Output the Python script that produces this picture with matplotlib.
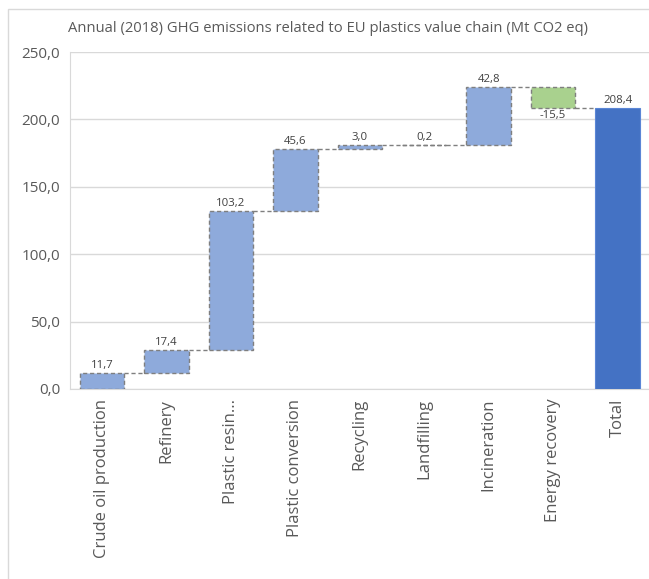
import matplotlib.pyplot as plt
from matplotlib.patches import Rectangle

stages = [
    "Crude oil production",
    "Refinery",
    "Plastic resin...",
    "Plastic conversion",
    "Recycling",
    "Landfilling",
    "Incineration",
    "Energy recovery",
]
emissions = [11.7, 17.4, 103.2, 45.6, 3.0, 0.2, 42.8, -15.5]
total_label = "Total"
total_value = 208.4

y_ticks = [0, 50, 100, 150, 200, 250]

plt.rcParams["font.family"] = ["Open Sans", "DejaVu Sans"]

up_color = "#8eaadb"
down_color = "#a9d18e"
total_color = "#4472c4"
edge_gray = "#7f7f7f"
text_gray = "#595959"


def fmt(v):
    return f"{v:.1f}".replace(".", ",")


fig = plt.figure(figsize=(6.49, 5.79), dpi=100)
ax = fig.add_axes([69.8 / 649, 190 / 579, 580 / 649, 337 / 579])

width = 0.69
running = 0.0
tops = []
for i, v in enumerate(emissions):
    start = running
    running += v
    bottom = min(start, running)
    color = up_color if v >= 0 else down_color
    ax.bar(i, abs(v), bottom=bottom, width=width, color=color,
           edgecolor=edge_gray, linewidth=1.0, linestyle=(0, (3, 2)), zorder=3)
    if v >= 0:
        ax.text(i, running + 1.5, fmt(v), ha="center", va="bottom",
                fontsize=8.2, color="#404040", zorder=4)
    else:
        ax.text(i, running - 1.5, fmt(v), ha="center", va="top",
                fontsize=8.2, color="#404040", zorder=4)
    tops.append(running)

n = len(emissions)
ax.bar(n, total_value, width=width, color=total_color, edgecolor="#5b86d6",
       linewidth=0.8, zorder=3)
ax.text(n, total_value + 1.5, fmt(total_value), ha="center", va="bottom",
        fontsize=8.2, color="#404040", zorder=4)

# dashed connectors between consecutive bars
for i, level in enumerate(tops):
    ax.plot([i + width / 2, i + 1 - width / 2], [level, level],
            color=edge_gray, linewidth=1.0, linestyle=(0, (3, 2)), zorder=2)

ax.set_xlim(-0.5, n + 0.5)
ax.set_ylim(0, 250)
ax.set_yticks(y_ticks)
ax.set_yticklabels([fmt(t) for t in y_ticks], fontsize=11, color=text_gray)
ax.set_xticks(range(n + 1))
ax.set_xticklabels(stages + [total_label], rotation=90, fontsize=12,
                   color=text_gray, va="top")
ax.tick_params(axis="both", length=0)
ax.tick_params(axis="y", pad=7)
ax.tick_params(axis="x", pad=7)

ax.grid(axis="y", color="#d9d9d9", linewidth=1.0, zorder=0)
ax.set_axisbelow(True)
for side in ["top", "right"]:
    ax.spines[side].set_visible(False)
ax.spines["left"].set_color("#d9d9d9")
ax.spines["bottom"].set_color("#d9d9d9")

fig.text(328 / 649, 1 - 28 / 579,
         "Annual (2018) GHG emissions related to EU plastics value chain (Mt CO2 eq)",
         ha="center", va="center", fontsize=10.6, color=text_gray)

# chart frame
fig.add_artist(Rectangle((8 / 649, -0.1), 1.2, 1.1 - 9 / 579,
                         transform=fig.transFigure, fill=False,
                         edgecolor="#d9d9d9", linewidth=1.0))

fig.savefig("out.png", dpi=100)
